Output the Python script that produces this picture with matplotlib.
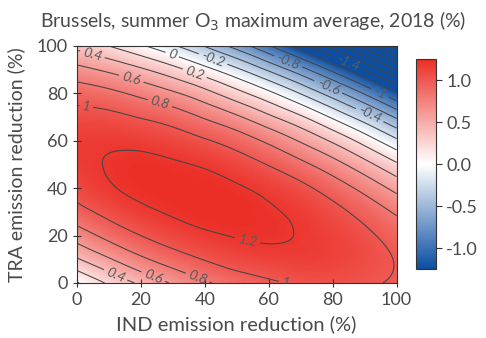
import matplotlib

matplotlib.use("Agg")
import matplotlib.pyplot as plt
import matplotlib.tri as mtri
import numpy as np
from matplotlib.colors import LinearSegmentedColormap

plt.rcParams["font.family"] = ["Lato", "DejaVu Sans"]
plt.rcParams["axes.unicode_minus"] = False

# Emission reductions (%) on both axes
ind_pct = [0, 10, 20, 30, 40, 50, 60, 70, 80, 90, 100]
tra_pct = [0, 10, 20, 30, 40, 50, 60, 70, 80, 90, 100]

# Summer O3 maximum average change (%), rows = TRA level, cols = IND level
o3_change = [
    [-0.02, 0.23, 0.44, 0.62, 0.77, 0.89, 0.97, 1.02, 1.04, 1.02, 0.98],
    [0.38, 0.58, 0.76, 0.90, 1.01, 1.09, 1.13, 1.15, 1.13, 1.07, 0.99],
    [0.69, 0.86, 1.00, 1.10, 1.17, 1.21, 1.22, 1.19, 1.13, 1.04, 0.92],
    [0.93, 1.06, 1.16, 1.22, 1.26, 1.26, 1.22, 1.16, 1.06, 0.93, 0.77],
    [1.08, 1.18, 1.24, 1.26, 1.26, 1.22, 1.15, 1.05, 0.91, 0.74, 0.54],
    [1.16, 1.21, 1.24, 1.22, 1.18, 1.10, 0.99, 0.85, 0.68, 0.47, 0.23],
    [1.16, 1.17, 1.15, 1.10, 1.02, 0.91, 0.76, 0.58, 0.37, 0.12, -0.16],
    [1.07, 1.05, 0.99, 0.91, 0.78, 0.63, 0.44, 0.23, -0.03, -0.31, -0.63],
    [0.91, 0.85, 0.75, 0.63, 0.47, 0.27, 0.05, -0.21, -0.50, -0.82, -1.18],
    [0.66, 0.56, 0.43, 0.27, 0.07, -0.16, -0.43, -0.72, -1.05, -1.41, -1.81],
    [0.34, 0.20, 0.03, -0.17, -0.41, -0.68, -0.98, -1.32, -1.68, -2.08, -2.52],
]

contour_levels = [-2.4, -2.2, -2.0, -1.8, -1.6, -1.4, -1.2, -1.0, -0.8, -0.6, -0.4,
                  -0.2, 0.0, 0.2, 0.4, 0.6, 0.8, 1.0, 1.2]
cbar_ticks = [-1.0, -0.5, 0.0, 0.5, 1.0]

# where the inline contour labels sit
label_spots = [(5, 97), (30, 97), (43, 96), (37, 89), (17, 86), (26, 76), (3, 75),
               (66, 93), (85, 94), (79, 84), (95, 81), (92, 72), (54, 22),
               (12, 3), (24, 3), (38, 3), (67, 2)]

TEXT = "#4a4a4a"
cmap = LinearSegmentedColormap.from_list("o3", ["#0b4ea2", "#ffffff", "#eb2f27"])

xx, yy = np.meshgrid(ind_pct, tra_pct)
z = np.array(o3_change)
triang = mtri.Triangulation(xx.ravel(), yy.ravel())
refiner = mtri.UniformTriRefiner(triang)
tri_fine, z_fine = refiner.refine_field(z.ravel(), subdiv=4)

fig = plt.figure(figsize=(4.86, 3.38), dpi=100)
ax = fig.add_axes([0.158, 0.163, 0.658, 0.701])
cax = fig.add_axes([0.856, 0.204, 0.041, 0.621])

im = ax.tripcolor(tri_fine, z_fine, shading="gouraud", cmap=cmap, vmin=-1.25, vmax=1.25)
cs = ax.tricontour(tri_fine, z_fine, levels=contour_levels, colors="#444444",
                   linewidths=0.75, linestyles="solid")
labels = ax.clabel(cs, fmt="%g", fontsize=10, inline=True, inline_spacing=3,
                   colors="#5a5a5a", manual=label_spots)
for t in labels:
    t.set_fontstyle("italic")

ax.set_xlim(0, 100)
ax.set_ylim(0, 100)
ax.set_xticks([0, 20, 40, 60, 80, 100])
ax.set_yticks([0, 20, 40, 60, 80, 100])
ax.tick_params(direction="inout", length=6, width=0.8, colors="#333333", labelcolor=TEXT, labelsize=13)
for s in ax.spines.values():
    s.set_color("#333333")
    s.set_linewidth(0.8)
ax.set_xlabel("IND emission reduction (%)", fontsize=14.5, color=TEXT, labelpad=5)
ax.set_ylabel("TRA emission reduction (%)", fontsize=14, color=TEXT, labelpad=8)
ax.set_title("Brussels, summer O$_3$ maximum average, 2018 (%)", fontsize=14, color=TEXT, pad=13, x=0.55)

cb = fig.colorbar(im, cax=cax, ticks=cbar_ticks)
cb.ax.yaxis.set_major_formatter(matplotlib.ticker.FormatStrFormatter("%.1f"))
cb.ax.tick_params(labelsize=13, colors="#333333", labelcolor=TEXT, length=4, width=0.8)
cb.outline.set_edgecolor("#333333")
cb.outline.set_linewidth(0.8)

fig.savefig("out.png", dpi=100)
